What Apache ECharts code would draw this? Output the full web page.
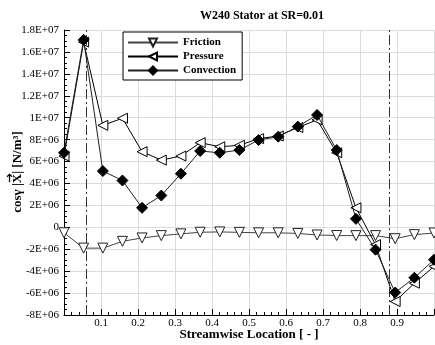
<!DOCTYPE html>
<html lang="en">
<head>
    <meta charset="UTF-8">
    <title>W240 Stator at SR=0.01</title>
    <style>
        body { margin: 0; background: #fff; }
        #container { width: 435px; height: 345px; }
    </style>
    <script src="https://cdn.jsdelivr.net/npm/echarts@6.0.0/dist/echarts.min.js"></script>
</head>
<body>
    <div id="container"></div>
    <script>
        // streamwise locations of the data points
        var locations = [0, 0.053, 0.105, 0.158, 0.211, 0.263, 0.316, 0.368, 0.421, 0.474,
                         0.526, 0.579, 0.632, 0.684, 0.737, 0.789, 0.842, 0.895, 0.947, 1.0];

        var friction = [-0.5e6, -1.9e6, -1.9e6, -1.28e6, -0.97e6, -0.76e6, -0.6e6, -0.45e6, -0.42e6, -0.46e6,
                        -0.5e6, -0.5e6, -0.56e6, -0.7e6, -0.75e6, -0.76e6, -0.76e6, -1.04e6, -0.67e6, -0.52e6];
        var pressure = [6.5e6, 16.9e6, 9.3e6, 9.95e6, 6.9e6, 6.13e6, 6.5e6, 7.72e6, 7.35e6, 7.48e6,
                        8.09e6, 8.33e6, 9.1e6, 9.8e6, 6.8e6, 1.78e6, -1.58e6, -6.77e6, -5.1e6, -3.57e6];
        var convection = [6.8e6, 17.1e6, 5.13e6, 4.27e6, 1.78e6, 2.9e6, 4.89e6, 6.96e6, 6.8e6, 7.05e6,
                          7.96e6, 8.27e6, 9.19e6, 10.25e6, 7.05e6, 0.77e6, -2.04e6, -5.95e6, -4.6e6, -2.96e6];

        // dash-dot lines (leading / trailing edge)
        var edgeLines = [0.062, 0.884];

        var yTickLabels = ['-8E+06', '-6E+06', '-4E+06', '-2E+06', '0', '2E+06', '4E+06', '6E+06',
                           '8E+06', '1E+07', '1.2E+07', '1.4E+07', '1.6E+07', '1.8E+07'];
        var xTickLabels = ['', '0.1', '0.2', '0.3', '0.4', '0.5', '0.6', '0.7', '0.8', '0.9', ''];

        // y axis title, split so the vector arrow can sit over the X
        var yNameParts = ['cos\u03B3 |', 'X', '| [N/m\u00B3]'];

        function pairs(ys) {
            return locations.map(function (x, i) { return [x, ys[i]]; });
        }

        var serif = '"Liberation Serif", "DejaVu Serif", serif';
        var nameFont = 'bold 13px ' + serif;

        // measure the title pieces to place the arrow
        var ctx = document.createElement('canvas').getContext('2d');
        ctx.font = nameFont;
        var widths = yNameParts.map(function (s) { return ctx.measureText(s).width; });
        var total = widths[0] + widths[1] + widths[2];
        var x0 = -total / 2;
        var xX = x0 + widths[0];
        var x2 = xX + widths[1];

        var nameStyle = { font: nameFont, fill: '#000', verticalAlign: 'middle', align: 'left' };

        var chart = echarts.init(document.getElementById('container'));

        var option = {
            backgroundColor: '#fff',
            animation: false,
            title: {
                text: 'W240 Stator at SR=0.01',
                left: 257,
                top: 5,
                textAlign: 'center',
                textStyle: { fontFamily: serif, fontWeight: 'bold', fontSize: 12, color: '#000' }
            },
            legend: {
                orient: 'vertical',
                left: 123,
                top: 32,
                itemWidth: 50,
                itemHeight: 10,
                itemGap: 3,
                padding: [5, 6, 4, 4],
                borderColor: '#000',
                borderWidth: 1,
                backgroundColor: '#fff',
                textStyle: { fontFamily: serif, fontWeight: 'bold', fontSize: 11, color: '#000' },
                data: ['Friction', 'Pressure', 'Convection']
            },
            graphic: [{
                type: 'group',
                x: 18,
                y: 172,
                rotation: Math.PI / 2,
                silent: true,
                children: [
                    { type: 'text', x: x0, y: 0, style: Object.assign({ text: yNameParts[0] }, nameStyle) },
                    { type: 'text', x: xX, y: 0, style: Object.assign({ text: yNameParts[1] }, nameStyle) },
                    { type: 'text', x: x2, y: 0, style: Object.assign({ text: yNameParts[2] }, nameStyle) },
                    {
                        type: 'line',
                        shape: { x1: xX + 1, y1: -8.5, x2: x2 - 0.5, y2: -8.5 },
                        style: { stroke: '#000', lineWidth: 1.2 }
                    },
                    {
                        type: 'polyline',
                        shape: { points: [[x2 - 3, -11], [x2 - 0.5, -8.5], [x2 - 3, -6]] },
                        style: { stroke: '#000', lineWidth: 1.2, fill: null }
                    }
                ]
            }],
            grid: { left: 64, right: 1, top: 30, bottom: 30, outerBoundsMode: 'none', containLabel: false },
            xAxis: {
                type: 'value',
                min: 0,
                max: 1,
                interval: 0.1,
                name: 'Streamwise Location [ - ]',
                nameLocation: 'middle',
                nameGap: 13,
                nameMoveOverlap: false,
                nameTextStyle: { fontFamily: serif, fontWeight: 'bold', fontSize: 13, color: '#000' },
                axisLine: { onZero: false, lineStyle: { color: '#000', width: 1 } },
                axisTick: { inside: true, length: 6, lineStyle: { color: '#000' } },
                minorTick: { show: true, splitNumber: 5, length: 3, lineStyle: { color: '#000' } },
                splitLine: { show: true, lineStyle: { color: '#dcdcdc' } },
                axisLabel: {
                    margin: 3,
                    fontFamily: serif, fontSize: 11, color: '#000',
                    formatter: function (v) { return xTickLabels[Math.round(v * 10)]; }
                }
            },
            yAxis: {
                type: 'value',
                min: -8e6,
                max: 1.8e7,
                interval: 2e6,
                axisLine: { show: true, lineStyle: { color: '#000', width: 1 } },
                axisTick: { inside: true, length: 6, lineStyle: { color: '#000' } },
                minorTick: { show: true, splitNumber: 4, length: 3, lineStyle: { color: '#000' } },
                splitLine: { show: true, lineStyle: { color: '#dcdcdc' } },
                axisLabel: {
                    margin: 5,
                    fontFamily: serif, fontSize: 11, color: '#000',
                    formatter: function (v) { return yTickLabels[Math.round((v + 8e6) / 2e6)]; }
                }
            },
            series: [
                {
                    name: 'Friction',
                    type: 'line',
                    data: pairs(friction),
                    symbol: 'triangle',
                    symbolRotate: 180,
                    symbolSize: 10,
                    lineStyle: { color: '#444', width: 1 },
                    itemStyle: { color: '#fff', borderColor: '#222', borderWidth: 1 },
                    markLine: {
                        silent: true,
                        symbol: 'none',
                        label: { show: false },
                        lineStyle: { color: '#333', width: 1, type: [10, 3, 2, 3] },
                        data: edgeLines.map(function (x) { return { xAxis: x }; })
                    },
                    z: 3
                },
                {
                    name: 'Pressure',
                    type: 'line',
                    data: pairs(pressure),
                    symbol: 'triangle',
                    symbolRotate: 90,
                    symbolSize: 10,
                    lineStyle: { color: '#000', width: 1 },
                    itemStyle: { color: '#fff', borderColor: '#000', borderWidth: 1 },
                    z: 4
                },
                {
                    name: 'Convection',
                    type: 'line',
                    data: pairs(convection),
                    symbol: 'diamond',
                    symbolSize: 11,
                    lineStyle: { color: '#222', width: 1 },
                    itemStyle: { color: '#000', borderColor: '#000', borderWidth: 1 },
                    z: 5
                }
            ]
        };

        chart.setOption(option);
    </script>
</body>
</html>
